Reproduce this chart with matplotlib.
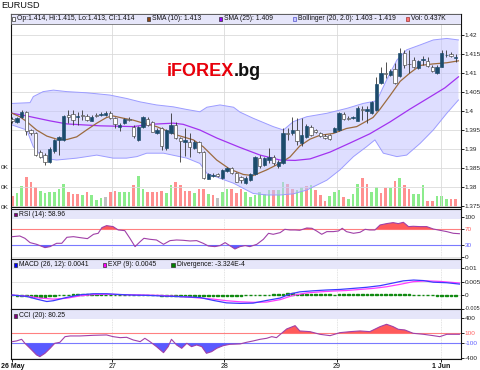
import matplotlib
matplotlib.use("Agg")
import matplotlib.pyplot as plt
from matplotlib.patches import Rectangle
import numpy as np

plt.rcParams['font.family'] = ['Liberation Sans', 'DejaVu Sans']

W, H = 480, 370

# ---------------- data ----------------
symbol = "EURUSD"
watermark_red = "iFOREX"
watermark_black = ".bg"

opens = [1.3980, 1.3971, 1.3984, 1.3997, 1.3949, 1.3942, 1.3892, 1.3884, 1.3866, 1.3895,
         1.3924, 1.3924, 1.3989, 1.3992, 1.3984, 1.3989, 1.3987, 1.3975, 1.3989, 1.3989,
         1.3989, 1.3995, 1.3982, 1.3959, 1.3968, 1.3979, 1.3959, 1.3924, 1.3958, 1.3980,
         1.3971, 1.3942, 1.3954, 1.3903, 1.3942, 1.3963, 1.3929, 1.3919, 1.3918, 1.3903,
         1.3918, 1.3892, 1.3822, 1.3829, 1.3834, 1.3824, 1.3841, 1.3849, 1.3837, 1.3826,
         1.3811, 1.3818, 1.3834, 1.3876, 1.3858, 1.3871, 1.3879, 1.3854, 1.3863, 1.3942,
         1.3942, 1.3950, 1.3916, 1.3932, 1.3959, 1.3950, 1.3942, 1.3934, 1.3937, 1.3946,
         1.3950, 1.3993, 1.3982, 1.3981, 1.3975, 1.4004, 1.4001, 1.3995, 1.4003, 1.4075,
         1.4100, 1.4095, 1.4110, 1.4092, 1.4153, 1.4125, 1.4134, 1.4113, 1.4133, 1.4132,
         1.4117, 1.4100, 1.4117, 1.4147, 1.4150, 1.4140]
highs = [1.3984, 1.3984, 1.4003, 1.4000, 1.3953, 1.3945, 1.3897, 1.3889, 1.3905, 1.3926,
         1.3934, 1.3989, 1.4003, 1.4003, 1.3997, 1.4003, 1.3992, 1.3989, 1.3995, 1.3997,
         1.4000, 1.4000, 1.3984, 1.3968, 1.3982, 1.3984, 1.3963, 1.3961, 1.3987, 1.3984,
         1.3974, 1.3955, 1.3958, 1.3953, 1.3995, 1.3972, 1.3932, 1.3954, 1.3942, 1.3924,
         1.3921, 1.3895, 1.3837, 1.3836, 1.3837, 1.3847, 1.3853, 1.3853, 1.3839, 1.3829,
         1.3829, 1.3837, 1.3882, 1.3884, 1.3879, 1.3903, 1.3884, 1.3871, 1.3955, 1.3955,
         1.3983, 1.3982, 1.3982, 1.3966, 1.3963, 1.3953, 1.3945, 1.3939, 1.3939, 1.3958,
         1.3997, 1.3997, 1.3987, 1.3987, 1.4013, 1.4013, 1.4013, 1.4026, 1.4089, 1.4117,
         1.4129, 1.4111, 1.4126, 1.4165, 1.4161, 1.4161, 1.4143, 1.4134, 1.4145, 1.4142,
         1.4121, 1.4121, 1.4161, 1.4161, 1.4155, 1.4150]
lows = [1.3968, 1.3968, 1.3982, 1.3937, 1.3937, 1.3882, 1.3876, 1.3858, 1.3863, 1.3889,
        1.3884, 1.3921, 1.3968, 1.3963, 1.3963, 1.3976, 1.3974, 1.3974, 1.3984, 1.3987,
        1.3987, 1.3979, 1.3955, 1.3947, 1.3966, 1.3974, 1.3929, 1.3921, 1.3955, 1.3961,
        1.3945, 1.3939, 1.3897, 1.3897, 1.3939, 1.3926, 1.3866, 1.3882, 1.3879, 1.3900,
        1.3889, 1.3821, 1.3821, 1.3826, 1.3826, 1.3821, 1.3839, 1.3834, 1.3813, 1.3811,
        1.3808, 1.3816, 1.3832, 1.3850, 1.3855, 1.3863, 1.3858, 1.3850, 1.3861, 1.3924,
        1.3937, 1.3911, 1.3908, 1.3929, 1.3934, 1.3942, 1.3932, 1.3926, 1.3924, 1.3945,
        1.3947, 1.3976, 1.3976, 1.3979, 1.3974, 1.3976, 1.3968, 1.3992, 1.4000, 1.4071,
        1.4087, 1.4092, 1.4072, 1.4089, 1.4112, 1.4100, 1.4112, 1.4111, 1.4121, 1.4116,
        1.4103, 1.4097, 1.4116, 1.4143, 1.4142, 1.4130]
closes = [1.3974, 1.3982, 1.3997, 1.3947, 1.3942, 1.3884, 1.3879, 1.3866, 1.3900, 1.3924,
          1.3932, 1.3987, 1.3984, 1.3976, 1.3988, 1.3986, 1.3976, 1.3984, 1.3988, 1.3993,
          1.3995, 1.3982, 1.3966, 1.3964, 1.3978, 1.3976, 1.3933, 1.3958, 1.3983, 1.3963,
          1.3946, 1.3950, 1.3907, 1.3950, 1.3963, 1.3929, 1.3920, 1.3924, 1.3905, 1.3918,
          1.3892, 1.3824, 1.3834, 1.3832, 1.3829, 1.3845, 1.3849, 1.3837, 1.3814, 1.3818,
          1.3825, 1.3833, 1.3879, 1.3855, 1.3876, 1.3879, 1.3863, 1.3866, 1.3942, 1.3939,
          1.3950, 1.3920, 1.3937, 1.3961, 1.3937, 1.3946, 1.3933, 1.3930, 1.3926, 1.3954,
          1.3995, 1.3979, 1.3979, 1.3983, 1.4009, 1.4003, 1.4005, 1.4024, 1.4072, 1.4100,
          1.4097, 1.4106, 1.4075, 1.4153, 1.4121, 1.4123, 1.4117, 1.4132, 1.4136, 1.4118,
          1.4104, 1.4115, 1.4153, 1.4148, 1.4146, 1.4142]

volumes = [5.7, 6.9, 10.7, 15.2, 12.4, 10.2, 8.2, 6.9, 7.4, 7.4,
           8.9, 11.5, 7.7, 6.5, 6.5, 5.9, 7.4, 5.9, 3.5, 4.4,
           5.2, 7.7, 8.0, 7.7, 7.7, 7.7, 11.0, 15.7, 9.0, 7.4,
           7.7, 7.7, 8.0, 6.9, 11.0, 12.4, 11.0, 8.0, 8.0, 6.9,
           8.9, 8.9, 6.5, 6.2, 4.4, 7.7, 8.9, 8.9, 6.9, 9.2,
           7.5, 5.0, 5.8, 7.5, 6.7, 8.3, 8.7, 8.7, 12.5, 11.7,
           9.2, 8.7, 10.0, 10.3, 10.8, 8.3, 5.8, 3.0, 5.3, 7.5,
           8.3, 5.0, 4.2, 6.7, 11.7, 14.5, 11.3, 7.5, 10.0, 7.0,
           9.3, 9.7, 13.0, 14.5, 10.8, 9.2, 6.7, 6.7, 10.8, 3.0,
           3.0, 5.3, 5.3, 4.2, 4.2, 4.2]
# 1 = up volume (green), -1 = down volume (red), 0 = unchanged (grey)
volume_dir = [-1, 1, 1, -1, -1, -1, 1, 1, 1, 1,
              1, 1, -1, -1, -1, 1, -1, 1, 1, 1,
              0, -1, -1, 1, 1, 1, -1, 1, 1, -1,
              -1, -1, -1, 1, 1, -1, -1, -1, -1, 1,
              -1, -1, 1, -1, 0, 1, 1, -1, -1, -1,
              1, 1, 1, 1, 1, 1, -1, 1, 1, -1,
              -1, 1, 1, -1, 1, -1, -1, -1, 1, 1,
              1, -1, 1, 1, 1, -1, -1, 1, 1, -1,
              -1, 1, -1, 1, -1, -1, 1, 1, 1, -1,
              -1, 1, 1, 1, -1, -1]

sma10_t = [0, 1.6, 3.1, 5.2, 7.4, 9.5, 11.7, 13.8, 15.9, 18.1, 20.2, 21.6, 23.8, 25.9,
           28.1, 30.9, 35.2, 38.8, 40.9, 43.8, 46.6, 49.5, 51.6, 54.5, 57.4, 59.5, 61.6,
           63.8, 65.9, 68.8, 71.6, 73.8, 77.3, 78.8, 80.9, 83.1, 85.2, 87.4, 90.2, 93.1, 95.6]
sma10_v = [1.3994, 1.3985, 1.3972, 1.3950, 1.3934, 1.3926, 1.3925, 1.3932, 1.3950, 1.3968,
           1.3983, 1.3987, 1.3981, 1.3976, 1.3968, 1.3959, 1.3937, 1.3924, 1.3906, 1.3871,
           1.3847, 1.3833, 1.3830, 1.3845, 1.3863, 1.3879, 1.3908, 1.3926, 1.3936, 1.3941,
           1.3954, 1.3959, 1.3983, 1.4005, 1.4040, 1.4078, 1.4100, 1.4120, 1.4124, 1.4127, 1.4132]

sma25_t = [0, 3.1, 8.1, 11.7, 18.8, 25.9, 29.5, 34.5, 36.6, 40.2, 43.8, 48.8, 53.1, 57.4,
           60.6, 63.8, 68.1, 72.4, 76.6, 80.9, 85.2, 89.5, 92.7, 95.6]
sma25_v = [1.3994, 1.3987, 1.3974, 1.3966, 1.3961, 1.3959, 1.3965, 1.3968, 1.3965, 1.3950,
           1.3929, 1.3904, 1.3884, 1.3871, 1.3870, 1.3874, 1.3892, 1.3916, 1.3940, 1.3971,
           1.4005, 1.4037, 1.4061, 1.4090]

bb_upper_t = [0, 3.8, 4.5, 6.6, 8.8, 11.7, 15.9, 20.9, 24.5, 27.4, 30.9, 34.5, 37.4, 40.2,
              41.7, 44.5, 47.4, 48.8, 51.6, 55.9, 58.1, 60.2, 63.1, 67.4, 71.7, 75.2, 78.1,
              80.2, 82.4, 84.5, 87.4, 90.2, 93.1, 95.6]
bb_upper_v = [1.4020, 1.4022, 1.4038, 1.4051, 1.4055, 1.4051, 1.4048, 1.4042, 1.4033, 1.4024,
              1.4016, 1.4011, 1.4004, 1.3998, 1.4010, 1.4016, 1.4010, 1.3997, 1.3981, 1.3959,
              1.3950, 1.3972, 1.3985, 1.3994, 1.4007, 1.4020, 1.4027, 1.4082, 1.4134, 1.4161,
              1.4174, 1.4187, 1.4191, 1.4187]
bb_lower_t = [0, 3.1, 4.5, 6.6, 9.5, 13.8, 18.1, 21.6, 24.5, 26.7, 28.8, 32.4, 37.4, 40.2,
              41.7, 44.5, 47.4, 48.8, 51.6, 54.5, 57.4, 60.2, 63.1, 67.4, 70.2, 73.1, 75.9,
              77.7, 79.5, 82.4, 84.5, 87.4, 90.2, 93.1, 95.6]
bb_lower_v = [1.3963, 1.3950, 1.3906, 1.3876, 1.3871, 1.3876, 1.3884, 1.3876, 1.3876, 1.3880,
              1.3889, 1.3889, 1.3876, 1.3862, 1.3836, 1.3823, 1.3810, 1.3801, 1.3783, 1.3779,
              1.3779, 1.3782, 1.3792, 1.3818, 1.3845, 1.3880, 1.3906, 1.3924, 1.3889, 1.3880,
              1.3884, 1.3915, 1.3950, 1.3994, 1.4029]

rsi_t = [0.0, 1.6, 2.7, 3.8, 5.2, 7.0, 8.1, 9.5, 10.6, 11.7, 13.1, 14.5, 16.1, 17.4, 18.4,
         19.2, 20.2, 21.6, 22.7, 24.1, 25.2, 26.3, 27.4, 28.2, 29.5, 30.9, 32.4, 33.8, 35.2,
         36.6, 38.1, 39.5, 40.9, 42.0, 43.4, 44.5, 45.6, 46.6, 47.7, 48.8, 49.9, 50.9, 52.4,
         53.8, 54.9, 55.9, 57.4, 58.4, 59.5, 60.6, 61.6, 63.1, 64.2, 65.2, 66.3, 67.4, 68.8,
         69.9, 70.7, 71.6, 73.1, 74.5, 75.6, 76.6, 77.7, 78.8, 80.2, 81.6, 82.7, 83.8, 84.9,
         85.9, 87.4, 88.8, 90.2, 91.6, 93.1, 94.5, 95.8]
rsi_v = [51.6, 53.3, 47.5, 36.7, 32.5, 24.2, 26.7, 35, 35, 50, 51.6, 49.2, 46.7, 57.5, 60,
         74.2, 79.2, 76.7, 68.3, 66.7, 47.5, 26.7, 39.2, 47.5, 45, 43.3, 32.5, 41.7, 43.3,
         42.5, 40.8, 41.7, 35, 28.3, 26.7, 29.2, 36.7, 29.2, 20.8, 26.7, 29.2, 26.7, 32.5,
         45, 60, 57.5, 61.7, 70, 68.3, 68.3, 67.5, 73.3, 72.5, 65.8, 57.5, 64.2, 64.2,
         65.8, 72.5, 64.2, 60, 62.5, 70, 68.3, 68.3, 80.8, 84.2, 86.7, 84.2, 87.5, 76.7,
         77.5, 76.7, 76.7, 70.8, 67.5, 64.2, 60, 59]

macd_t = [0, 3.1, 5.2, 7.4, 8.8, 11.6, 14.5, 17.4, 20.2, 23.1, 25.9, 28.8, 31.6, 34.5,
          37.4, 40.2, 43.1, 45.9, 48.8, 51.6, 54.5, 57.4, 59.5, 61.6, 64.5, 67.4, 70.2,
          73.1, 75.9, 78.8, 81.6, 83.8, 86.0, 88.1, 90.2, 93.1, 95.8]
macd_v = [0, -0.0005, -0.0015, -0.0024, -0.0021, -0.0009, 0.0001, 0.0005, 0.0005, 0.0002,
          0.0, -0.0001, -0.0003, -0.0005, -0.0007, -0.0009, -0.0020, -0.0029, -0.0031,
          -0.0030, -0.0020, -0.0011, 0.0004, 0.0012, 0.0016, 0.0019, 0.0021, 0.0025,
          0.0029, 0.0035, 0.0045, 0.0053, 0.0056, 0.0054, 0.0048, 0.0046, 0.0041]
exp_t = [0, 3.1, 5.9, 8.8, 11.6, 14.5, 17.4, 20.2, 23.1, 25.9, 28.8, 31.6, 34.5, 37.4,
         40.2, 43.1, 45.9, 48.8, 51.6, 54.5, 57.4, 60.2, 63.1, 65.9, 68.8, 71.6, 74.5,
         77.4, 80.2, 83.1, 85.9, 88.8, 91.6, 95.8]
exp_v = [0, -0.0004, -0.0011, -0.0015, -0.0012, -0.0003, 0.0002, 0.0003, 0.0002, 0.0001,
         0.0, -0.0001, -0.0004, -0.0007, -0.0011, -0.0015, -0.0021, -0.0025, -0.0027,
         -0.0026, -0.0017, -0.0001, 0.0008, 0.0012, 0.0015, 0.0017, 0.0021, 0.0025,
         0.0031, 0.0040, 0.0050, 0.0053, 0.0051, 0.0045]
divergence = [-0.0001, -0.0002, -0.0003, -0.0004, -0.0006, -0.0007, -0.0007, -0.0006, -0.0005, -0.0003,
              -0.0001, 0.0001, 0.0002, 0.0003, 0.0003, 0.0003, 0.0003, 0.0003, 0.0003, 0.0003,
              0.0002, 0.0001, 0.0001, 0.0, 0.0, -0.0001, 0.0, 0.0, 0.0, 0.0,
              -0.0001, -0.0001, -0.0002, -0.0002, -0.0002, -0.0002, -0.0002, -0.0003, -0.0003, -0.0003,
              -0.0004, -0.0004, -0.0004, -0.0004, -0.0004, -0.0004, -0.0004, -0.0003, -0.0003, -0.0002,
              -0.0001, 0.0001, 0.0001, 0.0002, 0.0002, 0.0002, 0.0003, 0.0003, 0.0005, 0.0006,
              0.0006, 0.0005, 0.0005, 0.0004, 0.0004, 0.0003, 0.0003, 0.0003, 0.0003, 0.0002,
              0.0003, 0.0003, 0.0003, 0.0003, 0.0003, 0.0003, 0.0003, 0.0004, 0.0005, 0.0005,
              0.0005, 0.0005, 0.0004, 0.0005, 0.0004, 0.0003, 0.0002, 0.0001, 0.0001, 0.0,
              -0.0001, -0.0002, -0.0002, -0.0003, -0.0003, -0.0003]

cci_t = [0, 0.9, 2.0, 2.7, 3.8, 5.2, 5.9, 7.0, 8.1, 9.1, 10.2, 11.3, 12.4, 14.5, 17.4,
         20.2, 21.6, 23.1, 24.5, 25.9, 27.4, 28.4, 29.5, 30.9, 32.4, 33.4, 34.1, 35.2, 36.3,
         37.4, 38.4, 39.5, 40.6, 41.6, 42.7, 43.8, 45.2, 46.6, 48.8, 50.2, 51.6, 53.1, 54.5,
         55.6, 56.6, 57.7, 58.8, 60.6, 61.6, 63.8, 65.9, 68.1, 70.2, 72.4, 74.5, 76.6, 78.8,
         80.2, 81.6, 82.7, 84.1, 85.9, 88.1, 90.2, 91.6, 93.1, 95.8]
cci_v = [-67, -53, -20, -100, -200, -333, -367, -300, -200, -100, -80, 33, 47, 47, 60,
         67, 33, 13, 20, -33, -67, 0, -67, -167, -287, -167, -20, -133, -200,
         -100, -167, -133, -167, -300, -267, -200, -147, -120, -113, -80, -53, -20, 0,
         33, 13, 100, 187, 253, 147, 133, 80, 53, 113, 133, 147, 133, 233,
         280, 233, 180, 167, 100, 80, 53, 33, 80, 80]

day_ticks = [0, 21.4, 45.4, 69.5, 91.8]
day_labels = ["26 May", "27", "28", "29", "1 Jun"]
day_bold = [True, False, False, False, True]

price_ticks = [1.42, 1.415, 1.41, 1.405, 1.4, 1.395, 1.39, 1.385, 1.38, 1.375]
price_labels = ["1.42", "1.415", "1.41", "1.405", "1.4", "1.395", "1.39", "1.385", "1.38", "1.375"]
vol_ticks = [0, 10, 20]
vol_labels = ["0K", "0K", "0K"]   # as visible at the left edge of the reference
rsi_ticks = [100, 70, 30, 0]
rsi_labels = ["100", "70", "30", "0"]
macd_ticks = [0.01, 0.005, 0, -0.005]
macd_labels = ["0.01", "0.005", "0", "-0.005"]
cci_ticks = [400, 100, -100, -400]
cci_labels = ["400", "100", "-100", "-400"]

legend_main = ["Op:1.414, Hi:1.415, Lo:1.413, Cl:1.414", "SMA (10): 1.413", "SMA (25): 1.409",
               "Bollinger (20, 2.0): 1.403 - 1.419", "Vol: 0.437K"]
legend_rsi = "RSI (14): 58.96"
legend_macd = ["MACD (26, 12): 0.0041", "EXP (9): 0.0045", "Divergence: -3.324E-4"]
legend_cci = "CCI (20): 80.25"

# ---------------- styling ----------------
UP = '#1c4b6c'
GRID = '#dadada'
TXT = '#222222'
C_SMA10 = '#9c6b3f'
C_SMA25 = '#a232f0'
C_RSI = '#a040a8'
C_RED = '#ff5a5a'
C_BLUE = '#5a5aff'
LAV = '#e6e6fa'
FS = 4.6

def px_rect(x0, y0, x1, y1):
    return [x0 / W, 1 - y1 / H, (x1 - x0) / W, (y1 - y0) / H]

fig = plt.figure(figsize=(W / 100, H / 100), dpi=100)
fig.patch.set_facecolor('white')
XL = (-0.28, 96.08)
idx = np.arange(len(closes))

# ---------- main price panel ----------
main_rect = px_rect(11, 14, 460.7, 207)
ax_v = fig.add_axes(main_rect)
ax = fig.add_axes(main_rect, sharex=ax_v)
ax.set_facecolor('none')

vcol = {1: '#8cec8c', -1: '#ff9090', 0: '#c0c0c0'}
ax_v.bar(idx, volumes, width=0.6, color=[vcol[d] for d in volume_dir], zorder=2)
ax_v.set_ylim(0, 96.5)
ax_v.set_xlim(*XL)
ax_v.set_yticks(vol_ticks, labels=vol_labels)
ax_v.tick_params(axis='y', length=0, pad=1.5, labelsize=FS, labelcolor=TXT)
ax_v.tick_params(axis='x', bottom=False, labelbottom=False)
for s in ax_v.spines.values():
    s.set_visible(False)

ax.set_xlim(*XL)
ax.set_ylim(1.37474, 1.42553)
for p in price_ticks:
    ax.axhline(p, color=GRID, lw=0.6, zorder=0)
for d in day_ticks[1:]:
    ax.axvline(d, color=GRID, lw=0.6, zorder=0)

band_x = np.r_[bb_upper_t, bb_lower_t[::-1]]
band_y = np.r_[bb_upper_v, bb_lower_v[::-1]]
ax.fill(band_x, band_y, facecolor='#c4c4ff', alpha=0.55, edgecolor='none', zorder=1)
ax.plot(bb_upper_t, bb_upper_v, color='#9c9cff', lw=0.7, zorder=2)
ax.plot(bb_lower_t, bb_lower_v, color='#9c9cff', lw=0.7, zorder=2)
ax.plot(sma25_t, sma25_v, color=C_SMA25, lw=0.9, zorder=3)
ax.plot(sma10_t, sma10_v, color=C_SMA10, lw=0.9, zorder=3)

o = np.array(opens); c = np.array(closes); hi = np.array(highs); lo = np.array(lows)
up = c >= o
ax.vlines(idx, lo, hi, color='#333333', lw=0.6, zorder=4)
body_lo = np.minimum(o, c)
body_h = np.maximum(np.abs(c - o), 0.00008)
ax.bar(idx, body_h, bottom=body_lo, width=0.7,
       color=[UP if u else 'white' for u in up],
       edgecolor=[UP if u else '#444444' for u in up], lw=0.45, zorder=5)

ax.yaxis.tick_right()
ax.set_yticks(price_ticks, labels=price_labels)
ax.tick_params(axis='y', length=2, width=0.6, pad=1.0, labelsize=FS, labelcolor=TXT)
ax.tick_params(axis='x', bottom=False, labelbottom=False)
for s in ax.spines.values():
    s.set_linewidth(0.8)
    s.set_color('#111111')
ax.add_patch(Rectangle((0, 1 - 9.5 / 193), 1, 9.5 / 193, transform=ax.transAxes,
                       facecolor=LAV, edgecolor='#555555', lw=0.5, zorder=6))


def setup_panel(a, ylim, ticks, labels, band_px, panel_px):
    a.set_xlim(*XL)
    a.set_ylim(*ylim)
    for t in ticks:
        a.axhline(t, color=GRID, lw=0.5, zorder=0)
    for d in day_ticks[1:]:
        a.axvline(d, color=GRID, lw=0.6, ls=(0, (1, 1)), zorder=0)
    a.yaxis.tick_right()
    a.set_yticks(ticks, labels=labels)
    a.tick_params(axis='y', length=2, width=0.6, pad=1.0, labelsize=FS, labelcolor=TXT)
    a.tick_params(axis='x', bottom=False, labelbottom=False)
    for s in a.spines.values():
        s.set_linewidth(0.8)
        s.set_color('#111111')
    a.add_patch(Rectangle((0, 1 - band_px / panel_px), 1, band_px / panel_px,
                          transform=a.transAxes, facecolor=LAV, edgecolor='none', zorder=0.5))


# ---------- RSI ----------
ax_r = fig.add_axes(px_rect(11, 208.5, 460.7, 258.5), sharex=ax)
setup_panel(ax_r, (-3, 122), rsi_ticks, rsi_labels, 10, 50)
rv = np.array(rsi_v); rt = np.array(rsi_t)
ax_r.fill_between(rt, rv, 70, where=rv >= 70, interpolate=True, color=C_RED, lw=0, zorder=2)
ax_r.fill_between(rt, rv, 30, where=rv <= 30, interpolate=True, color=C_BLUE, lw=0, zorder=2)
ax_r.axhline(70, color='#ff8080', lw=0.8, zorder=1)
ax_r.axhline(30, color='#7a7aff', lw=0.8, zorder=1)
ax_r.plot(rt, rv, color=C_RSI, lw=0.8, zorder=3)
tl = ax_r.get_yticklabels()
tl[1].set_color('#ff6060'); tl[2].set_color('#6060ff')

# ---------- MACD ----------
ax_m = fig.add_axes(px_rect(11, 259, 460.7, 308.5), sharex=ax)
setup_panel(ax_m, (-0.00489, 0.01344), macd_ticks, macd_labels, 9.5, 49.5)
ax_m.bar(idx, divergence, width=0.55, color='#108a10', edgecolor='#108a10', lw=1.0, zorder=2)
ax_m.plot(exp_t, exp_v, color='#ff3cff', lw=0.9, zorder=3)
ax_m.plot(macd_t, macd_v, color='#3c3cff', lw=0.9, zorder=4)
ax_m.get_yticklabels()[3].set_fontsize(3.9)

# ---------- CCI ----------
ax_c = fig.add_axes(px_rect(11, 309, 460.7, 359), sharex=ax)
setup_panel(ax_c, (-414, 586), cci_ticks, cci_labels, 10, 50)
cv = np.array(cci_v); ct = np.array(cci_t)
ax_c.fill_between(ct, cv, 100, where=cv >= 100, interpolate=True, color=C_RED, lw=0, zorder=2)
ax_c.fill_between(ct, cv, -100, where=cv <= -100, interpolate=True, color=C_BLUE, lw=0, zorder=2)
ax_c.axhline(100, color='#ff8080', lw=0.8, zorder=1)
ax_c.axhline(-100, color='#7a7aff', lw=0.8, zorder=1)
ax_c.plot(ct, cv, color=C_RSI, lw=0.8, zorder=3)
tl = ax_c.get_yticklabels()
tl[1].set_color('#ff6060'); tl[2].set_color('#6060ff')
ax_c.set_xticks(day_ticks, labels=day_labels)
ax_c.tick_params(axis='x', bottom=True, labelbottom=True, length=2.0, width=0.6,
                 pad=0.8, labelsize=5.0, labelcolor='#111111')
for lab, b in zip(ax_c.get_xticklabels(), day_bold):
    lab.set_fontweight('bold' if b else 'normal')

# ---------- texts / legends ----------
fig.text(1 / W, 1 - 6 / H, symbol, fontsize=6.6, va='center', ha='left', color='#111111')


def legend_item(xs, y, face, edge, text, fs=4.9):
    r = Rectangle((xs / W, 1 - (y + 1.9) / H), 3.6 / W, 3.6 / H, transform=fig.transFigure,
                  facecolor=face, edgecolor=edge, lw=0.5, figure=fig)
    fig.patches.append(r)
    fig.text((xs + 5.5) / W, 1 - y / H, text, fontsize=fs, va='center', ha='left', color='#111111')


ly = 18.6
legend_item(11.5, ly, 'white', '#333333', legend_main[0])
legend_item(146.8, ly, '#8b4513', '#333333', legend_main[1])
legend_item(218.5, ly, '#9900ff', '#333333', legend_main[2])
legend_item(292.8, ly, '#c8c8ff', '#5555cc', legend_main[3])
legend_item(405.8, ly, '#ff7070', '#993333', legend_main[4])

legend_item(13.5, 214.2, '#800080', '#333333', legend_rsi)
legend_item(13.5, 264.6, '#0000ff', '#333333', legend_macd[0])
legend_item(102.8, 264.6, '#ff00ff', '#333333', legend_macd[1])
legend_item(171.3, 264.6, '#008000', '#333333', legend_macd[2])
legend_item(13.5, 315.6, '#800080', '#333333', legend_cci)

# watermark
t1 = fig.text(166.5 / W, 1 - 72 / H, watermark_red, fontsize=13, fontweight='bold',
              color='#e8000b', va='center', ha='left')
renderer = fig.canvas.get_renderer()
bb = t1.get_window_extent(renderer)
fig.text(bb.x1 / fig.bbox.width, 1 - 72 / H, watermark_black, fontsize=13, fontweight='bold',
         color='#111111', va='center', ha='left')

fig.savefig('out.png', dpi=100)
